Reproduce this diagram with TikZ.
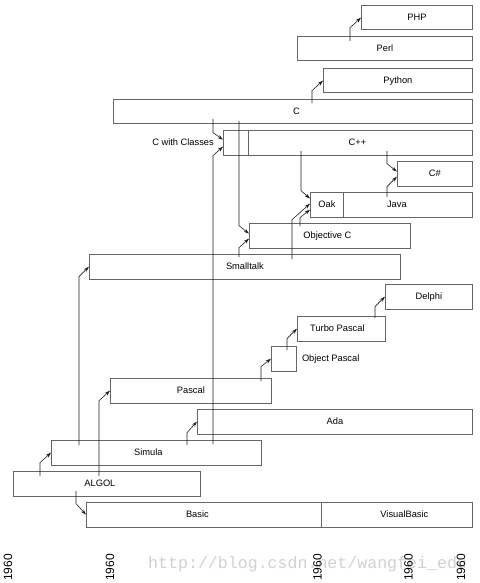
\documentclass[tikz,border=0pt]{standalone}
\usepackage{fontspec}
\setmainfont{Liberation Sans}
\newfontfamily\markfont{Liberation Mono}
\usetikzlibrary{positioning, arrows.meta}
\definecolor{boxgray}{rgb}{0.40,0.40,0.40}
\definecolor{linegray}{rgb}{0.12,0.12,0.12}
\definecolor{markgray}{rgb}{0.82,0.82,0.82}

\begin{document}
\begin{tikzpicture}[
  x=1pt, y=-1pt,
  every node/.style={
    font=\fontsize{9.3}{11}\selectfont,
    inner sep=0pt
  },
  lang/.style={
    draw=boxgray,
    line width=0.8pt,
    anchor=north west,
    minimum height=24.5pt
  },
  year/.style={
    rotate=90,
    anchor=east,
    font=\fontsize{12}{14}\selectfont
  },
  move arrow/.style={
    -{Stealth[length=5.5pt, width=3.5pt]},
    draw=linegray,
    line width=0.6pt
  }
]

\path[use as bounding box] (0,0) rectangle (479,583);

% languages
\node[lang, minimum width=111pt] (php) at (361,5) {PHP};
\node[lang, minimum width=175pt] (perl) at (297,36) {Perl};
\node[lang, minimum width=149pt] (python) at (323,68) {Python};
\node[lang, minimum width=359pt] (c) at (113,99) {\kern7pt C};
\node[lang, minimum width=25pt] (cwc) at (223,130) {};
\node[lang, minimum width=224pt] (cpp) at (248,130) {C++\kern6pt};
\node[lang, minimum width=75pt] (csharp) at (397,161) {C\#};
\node[lang, minimum width=33pt] (oak) at (310,192) {Oak};
\node[lang, minimum width=129pt] (java) at (343,192) {Java\kern22pt};
\node[lang, minimum width=161pt] (objc) at (249,223) {Objective C\kern5pt};
\node[lang, minimum width=311pt] (smalltalk) at (89,254) {Smalltalk};
\node[lang, minimum width=87pt] (delphi) at (385,284) {Delphi};
\node[lang, minimum width=88pt] (turbo) at (297,316) {Turbo Pascal\kern8pt};
\node[lang, minimum width=25pt] (objpascal) at (271,346) {};
\node[lang, minimum width=161pt] (pascal) at (110,378) {Pascal};
\node[lang, minimum width=275pt] (ada) at (197,409) {Ada};
\node[lang, minimum width=210pt] (simula) at (51,440) {Simula\kern16pt};
\node[lang, minimum width=187pt] (algol) at (13,471) {ALGOL\kern14pt};
\node[lang, minimum width=235pt] (basic) at (86,502) {Basic\kern13pt};
\node[lang, minimum width=151pt] (vbasic) at (321,502) {\kern15pt VisualBasic};

\node(cwc_label)[left=9pt of cwc] {C with Classes};
\node(objpascal_label)[right=5pt of objpascal] {Object Pascal};

% where each line leaves its parent
\coordinate (algol_simula) at (40,476);
\coordinate (algol_pascal) at (99,476);
\coordinate (algol_basic) at (76,491);
\coordinate (simula_smalltalk) at (79,445);
\coordinate (simula_ada) at (187,445);
\coordinate (simula_cwc) at (213,444);
\coordinate (c_cwc) at (213,119);
\coordinate (c_objc) at (239,121);
\coordinate (smalltalk_objc) at (239,257);
\coordinate (c_python) at (312,103);
\coordinate (perl_php) at (350,41);
\coordinate (cpp_csharp) at (387,151);
\coordinate (java_csharp) at (387,197);
\coordinate (cpp_oak) at (301,151);
\coordinate (smalltalk_oak) at (292,259);
\coordinate (objc_oak) at (300,226);
\coordinate (pascal_objpascal) at (261,381);
\coordinate (objpascal_turbo) at (287,350);
\coordinate (turbo_delphi) at (375,318);

% where each line comes in
\coordinate[above=3pt of cwc.west] (cwc_in1);
\coordinate[below=4pt of cwc.west] (cwc_in2);
\coordinate[above=2pt of objc.west] (objc_in1);
\coordinate[below=3pt of objc.west] (objc_in2);
\coordinate[above=2pt of csharp.west] (csharp_in1);
\coordinate[below=3pt of csharp.west] (csharp_in2);
\coordinate[above=6pt of oak.west] (oak_in1);
\coordinate[above=1pt of oak.west] (oak_in2);
\coordinate[below=5pt of oak.west] (oak_in3);

\coordinate[below=10pt of simula.west] (simula_bend);
\coordinate[below=10pt of pascal.west] (pascal_bend);
\coordinate[above=11pt of basic.west] (basic_bend);
\coordinate[below=10pt of smalltalk.west] (smalltalk_bend);
\coordinate[below=11pt of ada.west] (ada_bend);
\coordinate[above=7pt of cwc_in1] (cwc_bend1);
\coordinate[below=9pt of cwc_in2] (cwc_bend2);
\coordinate[above=8pt of objc_in1] (objc_bend1);
\coordinate[below=9pt of objc_in2] (objc_bend2);
\coordinate[below=10pt of python.west] (python_bend);
\coordinate[below=10pt of php.west] (php_bend);
\coordinate[above=8pt of csharp_in1] (csharp_bend1);
\coordinate[below=10pt of csharp_in2] (csharp_bend2);
\coordinate[above=8pt of oak_in1] (oak_bend1);
\coordinate[below=16pt of oak_in2] (oak_bend2);
\coordinate[below=8pt of oak_in3] (oak_bend3);
\coordinate[below=8pt of objpascal.west] (objpascal_bend);
\coordinate[below=10pt of turbo.west] (turbo_bend);
\coordinate[below=10pt of delphi.west] (delphi_bend);

\draw[move arrow] (algol_simula) -- (algol_simula |- simula_bend) -- (simula.west);
\draw[move arrow] (algol_pascal) -- (algol_pascal |- pascal_bend) -- (pascal.west);
\draw[move arrow] (algol_basic) -- (algol_basic |- basic_bend) -- (basic.west);
\draw[move arrow] (simula_smalltalk) -- (simula_smalltalk |- smalltalk_bend) -- (smalltalk.west);
\draw[move arrow] (simula_ada) -- (simula_ada |- ada_bend) -- (ada.west);
\draw[move arrow] (c_cwc) -- (c_cwc |- cwc_bend1) -- (cwc_in1);
\draw[move arrow] (simula_cwc) -- (simula_cwc |- cwc_bend2) -- (cwc_in2);
\draw[move arrow] (c_objc) -- (c_objc |- objc_bend1) -- (objc_in1);
\draw[move arrow] (smalltalk_objc) -- (smalltalk_objc |- objc_bend2) -- (objc_in2);
\draw[move arrow] (c_python) -- (c_python |- python_bend) -- (python.west);
\draw[move arrow] (perl_php) -- (perl_php |- php_bend) -- (php.west);
\draw[move arrow] (cpp_csharp) -- (cpp_csharp |- csharp_bend1) -- (csharp_in1);
\draw[move arrow] (java_csharp) -- (java_csharp |- csharp_bend2) -- (csharp_in2);
\draw[move arrow] (cpp_oak) -- (cpp_oak |- oak_bend1) -- (oak_in1);
\draw[move arrow] (smalltalk_oak) -- (smalltalk_oak |- oak_bend2) -- (oak_in2);
\draw[move arrow] (objc_oak) -- (objc_oak |- oak_bend3) -- (oak_in3);
\draw[move arrow] (pascal_objpascal) -- (pascal_objpascal |- objpascal_bend) -- (objpascal.west);
\draw[move arrow] (objpascal_turbo) -- (objpascal_turbo |- turbo_bend) -- (turbo.west);
\draw[move arrow] (turbo_delphi) -- (turbo_delphi |- delphi_bend) -- (delphi.west);

% time axis
\node(mark)[anchor=base west, font=\markfont\fontsize{16.6}{18}\selectfont, text=markgray] at (148,568) {http://blog.csdn.net/wangfei\_edu};
\node(year1)[year] at (8,554) {1960};
\node(year2)[year] at (110,554) {1960};
\node(year3)[year] at (317.5,554) {1960};
\node(year4)[year] at (408.5,554) {1960};
\node(year5)[year] at (461,554) {1960};

\end{tikzpicture}
\end{document}
